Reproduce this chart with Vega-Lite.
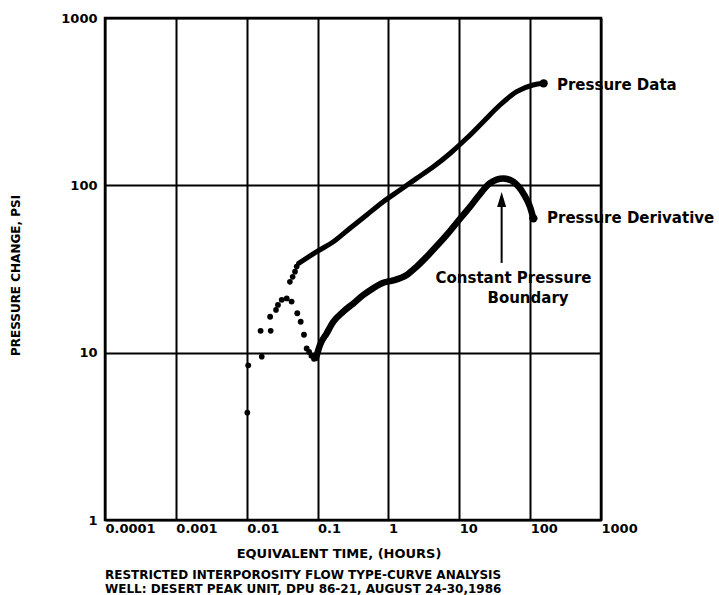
{
  "$schema": "https://vega.github.io/schema/vega-lite/v6.json",
  "width": 496,
  "height": 502,
  "autosize": "none",
  "padding": {"left": 105, "top": 18, "right": 118, "bottom": 75},
  "background": "white",
  "config": {
    "view": {"stroke": "black", "strokeWidth": 2.5},
    "font": "DejaVu Sans",
    "axis": {
      "grid": true, "gridColor": "black", "gridWidth": 2, "gridOpacity": 1,
      "ticks": false, "domain": false,
      "labelFont": "DejaVu Sans", "labelFontWeight": "bold", "labelFontSize": 13, "labelColor": "black",
      "titleFont": "DejaVu Sans", "titleFontWeight": "bold", "titleColor": "black",
      "labelOverlap": false, "labelFlush": false
    }
  },
  "title": {
    "text": ["RESTRICTED INTERPOROSITY FLOW TYPE-CURVE ANALYSIS", "WELL: DESERT PEAK UNIT, DPU 86-21, AUGUST 24-30,1986"],
    "orient": "bottom", "anchor": "start", "frame": "group",
    "fontSize": 12, "font": "DejaVu Sans", "fontWeight": "bold", "color": "black",
    "lineHeight": 14, "offset": 10
  },
  "datasets": {
    "pressureDots": [
      {"t": 0.0102, "p": 4.38}, {"t": 0.0163, "p": 9.46}, {"t": 0.0218, "p": 13.5}, {"t": 0.0259, "p": 18.0},
      {"t": 0.0407, "p": 26.5}, {"t": 0.0445, "p": 28.4}, {"t": 0.048, "p": 30.5}, {"t": 0.0507, "p": 32.7}
    ],
    "pressureLine": [
      {"t": 0.054, "p": 34.2}, {"t": 0.0973, "p": 40.1}, {"t": 0.167, "p": 46.0}, {"t": 0.287, "p": 55.4},
      {"t": 0.493, "p": 66.5}, {"t": 0.845, "p": 79.8}, {"t": 1.456, "p": 93.8}, {"t": 2.5, "p": 110},
      {"t": 4.3, "p": 129}, {"t": 7.39, "p": 155}, {"t": 12.7, "p": 191}, {"t": 21.8, "p": 240},
      {"t": 37.5, "p": 302}, {"t": 64.6, "p": 363}, {"t": 110, "p": 398}, {"t": 155, "p": 407}
    ],
    "derivDots": [
      {"t": 0.0105, "p": 8.4}, {"t": 0.0157, "p": 13.5}, {"t": 0.0214, "p": 16.4}, {"t": 0.0276, "p": 19.3},
      {"t": 0.0312, "p": 20.7}, {"t": 0.0367, "p": 21.1}, {"t": 0.043, "p": 20.2},
      {"t": 0.0517, "p": 17.2}, {"t": 0.0578, "p": 15.3}, {"t": 0.0643, "p": 12.8}, {"t": 0.0702, "p": 10.6},
      {"t": 0.076, "p": 10.1}, {"t": 0.082, "p": 9.6}, {"t": 0.089, "p": 9.2}
    ],
    "derivLine": [
      {"t": 0.095, "p": 9.3}, {"t": 0.108, "p": 11.1}, {"t": 0.135, "p": 13.1}, {"t": 0.167, "p": 15.3},
      {"t": 0.231, "p": 17.6}, {"t": 0.32, "p": 19.7}, {"t": 0.441, "p": 22.1}, {"t": 0.61, "p": 24.3},
      {"t": 0.845, "p": 26.2}, {"t": 1.17, "p": 27.0}, {"t": 1.81, "p": 29.1}, {"t": 2.51, "p": 32.7},
      {"t": 3.86, "p": 39.3}, {"t": 6.64, "p": 50.5}, {"t": 10.8, "p": 64.9}, {"t": 14.2, "p": 74.5},
      {"t": 18.5, "p": 86}, {"t": 27.1, "p": 103}, {"t": 41.8, "p": 110}, {"t": 57.8, "p": 105},
      {"t": 80, "p": 89.6}, {"t": 99.5, "p": 74.5}, {"t": 111, "p": 63.5}
    ],
    "ends": [{"t": 155, "p": 407}, {"t": 111, "p": 63.5}],
    "arrowShaft": [{"t": 39.6, "p": 34.4, "p2": 84}],
    "arrowHead": [{"t": 39.6, "p": 82.3}],
    "labelsLeft": [
      {"t": 239, "p": 398, "label": "Pressure Data"},
      {"t": 173, "p": 63.8, "label": "Pressure Derivative"}
    ],
    "labelsCenter": [
      {"t": 58.2, "p": 27.9, "label": "Constant Pressure"},
      {"t": 93.3, "p": 21.2, "label": "Boundary"}
    ]
  },
  "encoding": {
    "x": {
      "field": "t", "type": "quantitative",
      "scale": {"type": "log", "domain": [0.0001, 1000], "nice": false},
      "axis": {
        "values": [0.0001, 0.001, 0.01, 0.1, 1, 10, 100, 1000], "format": "~g",
        "labelAlign": "left", "labelDx": -3, "labelBaseline": "top", "labelPadding": 2,
        "title": "EQUIVALENT TIME, (HOURS)", "titleFontSize": 13,
        "titleX": 233.5, "titleY": 33, "titleBaseline": "middle", "titleAlign": "center"
      }
    },
    "y": {
      "field": "p", "type": "quantitative",
      "scale": {"type": "log", "domain": [1, 1000], "nice": false},
      "axis": {
        "values": [1, 10, 100, 1000], "format": "~g", "labelPadding": 8,
        "title": "PRESSURE CHANGE, PSI", "titleFontSize": 12,
        "titleX": -90, "titleY": 257, "titleAngle": 270, "titleAlign": "center", "titleBaseline": "middle"
      }
    }
  },
  "layer": [
    {"data": {"name": "pressureLine"}, "mark": {"type": "line", "color": "black", "strokeWidth": 5, "interpolate": "monotone", "strokeCap": "round"}},
    {"data": {"name": "derivLine"}, "mark": {"type": "line", "color": "black", "strokeWidth": 6.5, "interpolate": "monotone", "strokeCap": "round"}},
    {"data": {"name": "pressureDots"}, "mark": {"type": "point", "filled": true, "color": "black", "opacity": 1, "size": 32}},
    {"data": {"name": "derivDots"}, "mark": {"type": "point", "filled": true, "color": "black", "opacity": 1, "size": 34}},
    {"data": {"name": "ends"}, "mark": {"type": "point", "filled": true, "color": "black", "opacity": 1, "size": 70}},
    {"data": {"name": "arrowShaft"}, "mark": {"type": "rule", "color": "black", "strokeWidth": 2}, "encoding": {"y2": {"field": "p2"}}},
    {"data": {"name": "arrowHead"}, "mark": {"type": "point", "shape": "M0,-1L0.6,1L-0.6,1Z", "filled": true, "color": "black", "opacity": 1, "size": 225}},
    {"data": {"name": "labelsLeft"}, "mark": {"type": "text", "align": "left", "baseline": "middle", "font": "DejaVu Sans", "fontWeight": "bold", "fontSize": 15, "color": "black"}, "encoding": {"text": {"field": "label"}}},
    {"data": {"name": "labelsCenter"}, "mark": {"type": "text", "align": "center", "baseline": "middle", "font": "DejaVu Sans", "fontWeight": "bold", "fontSize": 15, "color": "black"}, "encoding": {"text": {"field": "label"}}}
  ]
}
